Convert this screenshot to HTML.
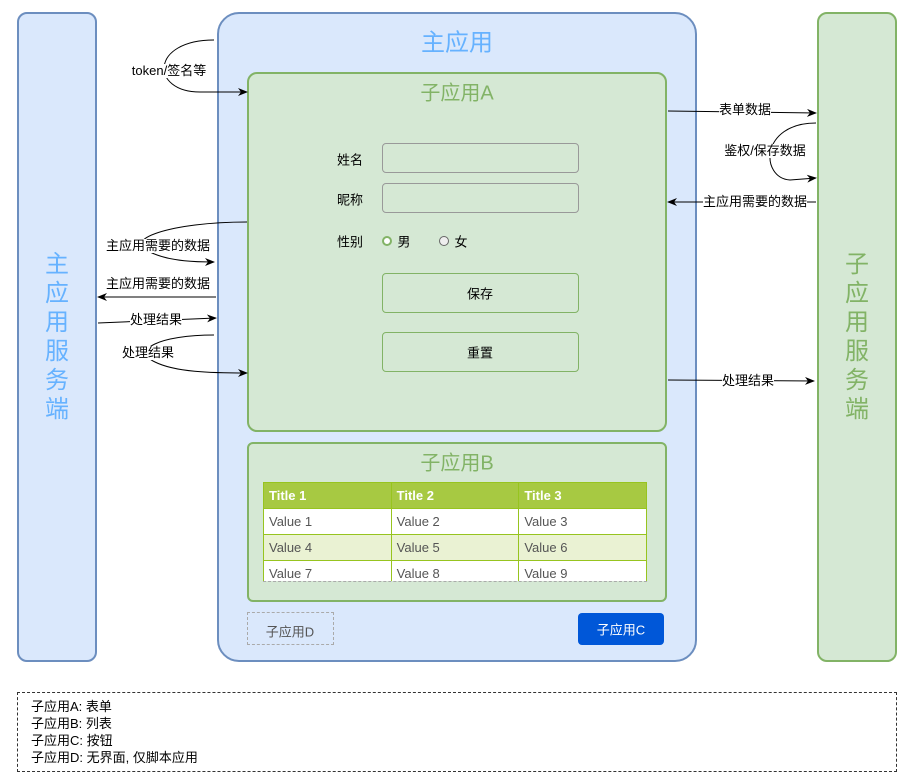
<!DOCTYPE html>
<html><head><meta charset="utf-8"><style>
body{margin:0;width:911px;height:777px;background:#fff;position:relative;font-family:"Liberation Sans","Noto Sans CJK SC",sans-serif;overflow:hidden}
.a{position:absolute;box-sizing:border-box}
.t{position:absolute;white-space:nowrap;transform:translate(-50%,-50%);font-size:13px;color:#000}
.lb{background:#fff;line-height:14px}
table{border-collapse:collapse;width:100%;font-size:13px}
td{border:1px solid #97c41f;height:26px;padding:0 5px;color:#555;box-sizing:border-box}
</style></head><body>
<div class="a" style="left:17px;top:12px;width:80px;height:650px;background:#dae8fc;border:2px solid #6c8ebf;border-radius:10px"></div>
<div class="a" style="left:217px;top:12px;width:480px;height:650px;background:#dae8fc;border:2px solid #6c8ebf;border-radius:22px"></div>
<div class="a" style="left:817px;top:12px;width:80px;height:650px;background:#d5e8d4;border:2px solid #82b366;border-radius:10px"></div>
<div class="a" style="left:17px;top:250px;width:80px;text-align:center;font-size:24px;line-height:29px;color:#66b2ff">主<br>应<br>用<br>服<br>务<br>端</div>
<div class="a" style="left:817px;top:250px;width:80px;text-align:center;font-size:24px;line-height:29px;color:#82b366">子<br>应<br>用<br>服<br>务<br>端</div>
<div class="t" style="left:457px;top:40px;font-size:24px;color:#66b2ff">主应用</div>

<div class="a" style="left:247px;top:72px;width:420px;height:360px;background:#d5e8d4;border:2px solid #82b366;border-radius:10px"></div>
<div class="t" style="left:457px;top:91px;font-size:20px;color:#82b366">子应用A</div>
<div class="t" style="left:350px;top:159px">姓名</div>
<div class="t" style="left:350px;top:199px">昵称</div>
<div class="t" style="left:350px;top:241px">性别</div>
<div class="a" style="left:382px;top:143px;width:197px;height:30px;border:1px solid #999;border-radius:4px"></div>
<div class="a" style="left:382px;top:183px;width:197px;height:30px;border:1px solid #999;border-radius:4px"></div>
<div class="a" style="left:382px;top:236px;width:10px;height:10px;border:2.5px solid #82b366;border-radius:50%;background:#fff"></div>
<div class="t" style="left:404px;top:241px">男</div>
<div class="a" style="left:439px;top:236px;width:10px;height:10px;border:1px solid #666;border-radius:50%;background:#eee"></div>
<div class="t" style="left:461px;top:241px">女</div>
<div class="a" style="left:382px;top:273px;width:197px;height:40px;border:1px solid #82b366;border-radius:4px"></div>
<div class="t" style="left:480px;top:293px">保存</div>
<div class="a" style="left:382px;top:332px;width:197px;height:40px;border:1px solid #82b366;border-radius:4px"></div>
<div class="t" style="left:480px;top:352px">重置</div>

<div class="a" style="left:247px;top:442px;width:420px;height:160px;background:#d5e8d4;border:2px solid #82b366;border-radius:6px"></div>
<div class="t" style="left:457px;top:461px;font-size:20px;color:#82b366">子应用B</div>
<div class="a" style="left:263px;top:482px;width:384px;height:100px;overflow:hidden;border-bottom:1px dashed #aaa">
<table><tr style="background:#a7c942"><td style="color:#fff;font-weight:bold">Title 1</td><td style="color:#fff;font-weight:bold">Title 2</td><td style="color:#fff;font-weight:bold">Title 3</td></tr>
<tr style="background:#fff"><td>Value 1</td><td>Value 2</td><td>Value 3</td></tr>
<tr style="background:#eaf2d3"><td>Value 4</td><td>Value 5</td><td>Value 6</td></tr>
<tr style="background:#fff"><td>Value 7</td><td>Value 8</td><td>Value 9</td></tr></table></div>

<div class="a" style="left:247px;top:612px;width:87px;height:33px;border:1px dashed #aaa"></div>
<div class="t" style="left:290px;top:631px;color:#555">子应用D</div>
<div class="a" style="left:578px;top:613px;width:86px;height:32px;background:#0057d8;border-radius:4px"></div>
<div class="t" style="left:621px;top:629px;color:#fff">子应用C</div>

<div class="a" style="left:17px;top:692px;width:880px;height:80px;border:1px dashed #333"></div>
<div class="a" style="left:31px;top:698px;font-size:13px;line-height:17px">子应用A: 表单<br>子应用B: 列表<br>子应用C: 按钮<br>子应用D: 无界面, 仅脚本应用</div>

<svg class="a" style="left:0;top:0" width="911" height="777">
<defs><marker id="m" markerWidth="10" markerHeight="8" refX="9" refY="4" orient="auto" markerUnits="userSpaceOnUse"><path d="M0,0L10,4L0,8L3,4Z" fill="#000"/></marker></defs>
<g fill="none" stroke="#000" stroke-width="1" marker-end="url(#m)">
<path d="M214,40C150,40 150,92 200,92L247,92"/>
<path d="M247,222C170,222 120,240 150,252C170,262 200,262 214,262"/>
<path d="M216,297L98,297"/>
<path d="M98,323L216,318"/>
<path d="M214,335C160,335 130,350 155,362C175,372 210,373 247,373"/>
<path d="M668,111L816,113"/>
<path d="M816,123C760,123 760,178 790,180L816,178"/>
<path d="M816,202L668,202"/>
<path d="M668,380L814,381"/>
</g></svg>
<div class="t lb" style="left:169px;top:71px">token/签名等</div>
<div class="t lb" style="left:158px;top:246px">主应用需要的数据</div>
<div class="t lb" style="left:158px;top:284px">主应用需要的数据</div>
<div class="t lb" style="left:156px;top:320px">处理结果</div>
<div class="t lb" style="left:148px;top:353px">处理结果</div>
<div class="t lb" style="left:745px;top:110px">表单数据</div>
<div class="t lb" style="left:765px;top:151px">鉴权/保存数据</div>
<div class="t lb" style="left:755px;top:202px">主应用需要的数据</div>
<div class="t lb" style="left:748px;top:381px">处理结果</div>
</body></html>
